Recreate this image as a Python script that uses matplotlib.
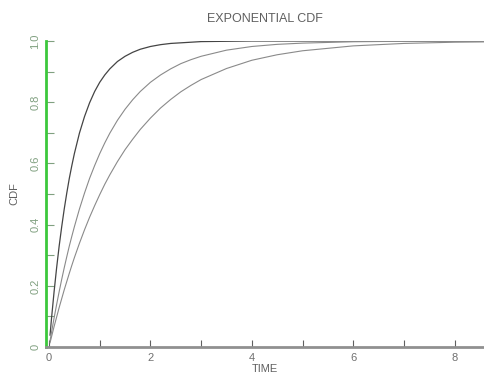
import matplotlib
matplotlib.use("Agg")
import matplotlib.pyplot as plt
from matplotlib.ticker import MultipleLocator

# values (three exponential CDFs, fast / mid / slow)
time = [0.02, 0.05, 0.1, 0.15, 0.2, 0.25, 0.3, 0.35, 0.4, 0.45, 0.5, 0.6,
        0.7, 0.8, 0.9, 1.0, 1.1, 1.2, 1.35, 1.5, 1.65, 1.8, 2.0, 2.2,
        2.4, 2.6, 2.8, 3.0, 3.5, 4.0, 4.5, 5.0, 6.0, 7.0, 8.0, 8.6]
cdf_fast = [0.039, 0.095, 0.181, 0.259, 0.33, 0.393, 0.451, 0.503, 0.551, 0.593, 0.632, 0.699,
            0.753, 0.798, 0.835, 0.865, 0.889, 0.909, 0.933, 0.95, 0.963, 0.973, 0.982, 0.988,
            0.992, 0.994, 0.996, 0.998, 0.999, 1.0, 1.0, 1.0, 1.0, 1.0, 1.0, 1.0]
cdf_mid = [0.02, 0.049, 0.095, 0.139, 0.181, 0.221, 0.259, 0.295, 0.33, 0.362, 0.393, 0.451,
           0.503, 0.551, 0.593, 0.632, 0.667, 0.699, 0.741, 0.777, 0.808, 0.835, 0.865, 0.889,
           0.909, 0.926, 0.939, 0.95, 0.97, 0.982, 0.989, 0.993, 0.9975, 0.999, 1.0, 1.0]
cdf_slow = [0.014, 0.034, 0.067, 0.098, 0.129, 0.158, 0.187, 0.214, 0.241, 0.267, 0.292, 0.339,
            0.383, 0.424, 0.462, 0.498, 0.532, 0.563, 0.606, 0.645, 0.679, 0.711, 0.748, 0.781,
            0.809, 0.834, 0.855, 0.874, 0.91, 0.937, 0.955, 0.968, 0.984, 0.992, 0.996, 0.997]
x_ticks = [0, 2, 4, 6, 8]
y_ticks = [0, 0.2, 0.4, 0.6, 0.8, 1.0]
y_labels = ["0", "0.2", "0.4", "0.6", "0.8", "1.0"]

plt.rcParams['font.family'] = ['Liberation Sans', 'DejaVu Sans']
fig = plt.figure(figsize=(4.84, 3.76), dpi=100)
ax = fig.add_axes([0.095, 0.077, 0.905, 0.814])

ax.plot(time, cdf_fast, color='#444444', lw=0.9)
ax.plot(time, cdf_mid, color='#8a8a8a', lw=0.8)
ax.plot(time, cdf_slow, color='#8a8a8a', lw=0.8)

ax.set_xlim(-0.06, 8.58)
ax.set_ylim(0, 1.0)

for s in ['top', 'right']:
    ax.spines[s].set_visible(False)
ax.spines['left'].set_color('#3cc83c')
ax.spines['left'].set_linewidth(2)
ax.spines['bottom'].set_color('#909090')
ax.spines['bottom'].set_linewidth(2)

ax.set_xticks(x_ticks)
ax.set_xticklabels([str(t) for t in x_ticks])
ax.xaxis.set_minor_locator(MultipleLocator(1))
ax.set_yticks(y_ticks)
ax.set_yticklabels(y_labels, rotation=90, va='center')
ax.yaxis.set_minor_locator(MultipleLocator(0.1))

ax.tick_params(axis='x', which='both', direction='in', length=5, width=0.8,
               color='#606060', labelcolor='#707070', labelsize=8, pad=4)
ax.tick_params(axis='y', which='both', direction='in', length=6, width=0.8,
               color='#80a080', labelcolor='#80a080', labelsize=8, pad=4)

ax.set_title("EXPONENTIAL CDF", fontsize=9, color='#606060', pad=14)
ax.set_xlabel("TIME", fontsize=8, color='#606060', labelpad=1)
ax.set_ylabel("CDF", fontsize=8, color='#606060', labelpad=8)

fig.savefig("out.png", dpi=100, facecolor='white')
